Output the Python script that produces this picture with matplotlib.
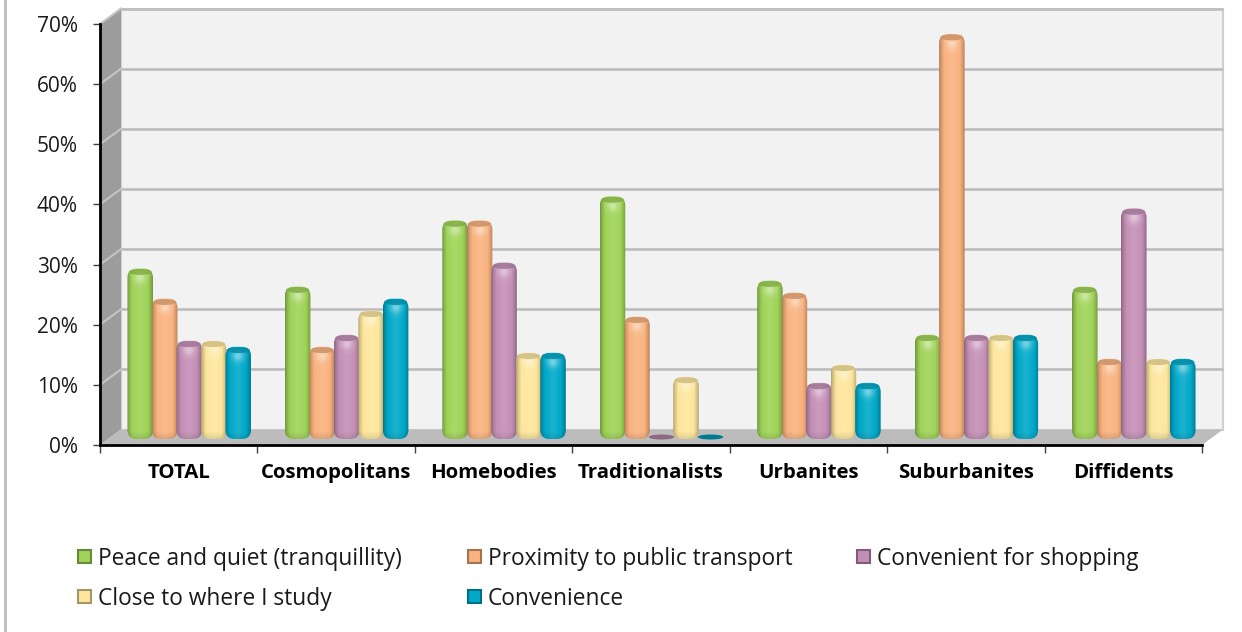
import numpy as np
import matplotlib
matplotlib.use("Agg")
import matplotlib.pyplot as plt
from matplotlib.patches import Ellipse, FancyBboxPatch, Polygon, Rectangle

plt.rcParams['font.family'] = ['Open Sans', 'DejaVu Sans']

categories = ["TOTAL", "Cosmopolitans", "Homebodies", "Traditionalists",
              "Urbanites", "Suburbanites", "Diffidents"]
peace = [28, 25, 36, 40, 26, 17, 25]
transport = [23, 15, 36, 20, 24, 67, 13]
shopping = [16, 17, 29, 0, 9, 17, 38]
study = [16, 21, 14, 10, 12, 17, 13]
convenience = [15, 23, 14, 0, 9, 17, 13]
series_names = ["Peace and quiet (tranquillity)", "Proximity to public transport",
                "Convenient for shopping", "Close to where I study", "Convenience"]
y_ticks = [0, 10, 20, 30, 40, 50, 60, 70]
y_labels = ["0%", "10%", "20%", "30%", "40%", "50%", "60%", "70%"]

series = [peace, transport, shopping, study, convenience]
colors = ["#9fd357", "#f9b27e", "#c48fb6", "#fde69c", "#00a9c9"]

W, H = 1242, 632
fig = plt.figure(figsize=(W / 100, H / 100), dpi=100, facecolor="white")
ax = fig.add_axes([100 / W, 1 - 445 / H, 1102 / W, 421 / H])
ax.patch.set_visible(False)

# pixel size of one data unit, used for the fake 3d depth
px_x = 1102 / 7
px_y = 421 / 70
wall_dx = 21 / px_x
wall_dy = 15.5 / px_y
bar_dx = 10.5 / px_x
bar_dy = 8 / px_y
bar_step = 24.5 / px_x
bar_w = 25.5 / px_x


def shade(color, hpx):
    # cylinder look: soft dark edges, highlight under the cap, darker foot
    rgb = np.array(matplotlib.colors.to_rgb(color))
    u = np.linspace(0, 1, 40)
    v = np.linspace(0, hpx, max(int(hpx), 8))
    prof = 0.70 + 0.30 * np.clip(np.minimum(u, 1 - u) / 0.2, 0, 1) ** 0.7
    glow = np.exp(-((v - 9) / 6) ** 2)[:, None] * 0.38 * np.exp(-((u - 0.5) / 0.24) ** 2)[None, :]
    band = 0.10 * np.exp(-((u - 0.5) / 0.2) ** 2)
    foot = np.clip((v - (hpx - 7)) / 7, 0, 1) * 0.12
    img = np.zeros((len(v), len(u), 3))
    for c in range(3):
        base = rgb[c] * prof[None, :] * (1 - foot)[:, None]
        img[:, :, c] = base + (1 - base) * (glow + band[None, :])
    return np.clip(img, 0, 1)


# walls and floor
back = Rectangle((wall_dx, wall_dy), 7, 70, fc="#f2f2f2", ec="#d0d0d0", lw=1.5, clip_on=False, zorder=0)
ax.add_patch(back)
side = Polygon([(0, 0), (wall_dx, wall_dy), (wall_dx, 70 + wall_dy), (0, 70)], fc="#9c9c9c", ec="none",
               clip_on=False, zorder=0.5)
ax.add_patch(side)
for t in y_ticks[1:]:
    ax.plot([wall_dx, 7 + wall_dx], [t + wall_dy, t + wall_dy], color="#bdbdbd", lw=1.9, clip_on=False, zorder=0.6,
            solid_capstyle="butt")
    ax.plot([0, wall_dx], [t, t + wall_dy], color="#c4c4c4", lw=1.5, clip_on=False, zorder=0.6)
floor = Polygon([(0, 0), (7, 0), (7 + wall_dx, wall_dy), (wall_dx, wall_dy)], fc="#bcbcbc", ec="none",
                clip_on=False, zorder=0.7)
ax.add_patch(floor)

# bars
cap_h = 6 / px_y
for i, vals in enumerate(series):
    rgb = np.array(matplotlib.colors.to_rgb(colors[i]))
    for j, v in enumerate(vals):
        left = j + 0.5 + bar_dx + (i - 2.5) * bar_step - (bar_w - bar_step) / 2
        base = bar_dy
        z = 2 + i * 0.1
        if v == 0:
            ax.add_patch(Ellipse((left + bar_w / 2, base), bar_w, 5 / px_y, fc=rgb * 0.72, ec="none", zorder=z))
            continue
        y0 = base - 2 / px_y
        y1 = base + v
        shape = FancyBboxPatch((left, y0), bar_w, y1 - y0,
                               boxstyle="round,pad=0,rounding_size=%f" % (9 / px_x),
                               mutation_aspect=px_x / px_y, fc="none", ec="none", zorder=z)
        ax.add_patch(shape)
        hpx = (y1 - y0) * px_y
        im = ax.imshow(shade(colors[i], hpx), extent=[left, left + bar_w, y0, y1],
                       aspect="auto", origin="upper", zorder=z, interpolation="bilinear")
        im.set_clip_path(shape)
        cap = Ellipse((left + bar_w / 2, y1 - cap_h / 2 - 0.05), bar_w * 0.9, cap_h,
                      fc=rgb * 0.82, ec="none", alpha=0.85, zorder=z + 0.01)
        ax.add_patch(cap)

ax.set_xlim(0, 7)
ax.set_ylim(0, 70)
for s in ["top", "right"]:
    ax.spines[s].set_visible(False)
for s in ["left", "bottom"]:
    ax.spines[s].set_linewidth(2.0)
    ax.spines[s].set_color("black")

ax.set_yticks(y_ticks)
ax.set_yticklabels(y_labels, fontsize=15, color="#1a1a1a")
ax.tick_params(axis="y", length=5, width=1, color="#404040", pad=11)
ax.set_xticks(range(8))
ax.set_xticklabels([])
ax.tick_params(axis="x", length=6, width=1, color="#404040")
ax.set_xticks(np.arange(7) + 0.5, minor=True)
ax.set_xticklabels(categories, minor=True, fontsize=14.7, fontweight="bold", color="black")
ax.tick_params(axis="x", which="minor", length=0, pad=13)

# legend, same layout as the picture
legend_pos = [(78, 557), (468, 557), (857, 557), (78, 597), (468, 597)]
for name, col, (lx, ly) in zip(series_names, colors, legend_pos):
    fig.add_artist(Rectangle((lx / W, 1 - (ly + 6) / H), 13 / W, 13 / H, transform=fig.transFigure,
                             fc=col, ec=np.array(matplotlib.colors.to_rgb(col)) * 0.65, lw=1.5))
    fig.text((lx + 20) / W, 1 - (ly + 2) / H, name, fontsize=16.4, color="#1a1a1a", va="center", ha="left")

# grey frame line at the left edge
fig.add_artist(Rectangle((4 / W, 0), 2.5 / W, 1, transform=fig.transFigure, fc="#c0c0c0", ec="none"))

fig.savefig("out.png", dpi=100)
